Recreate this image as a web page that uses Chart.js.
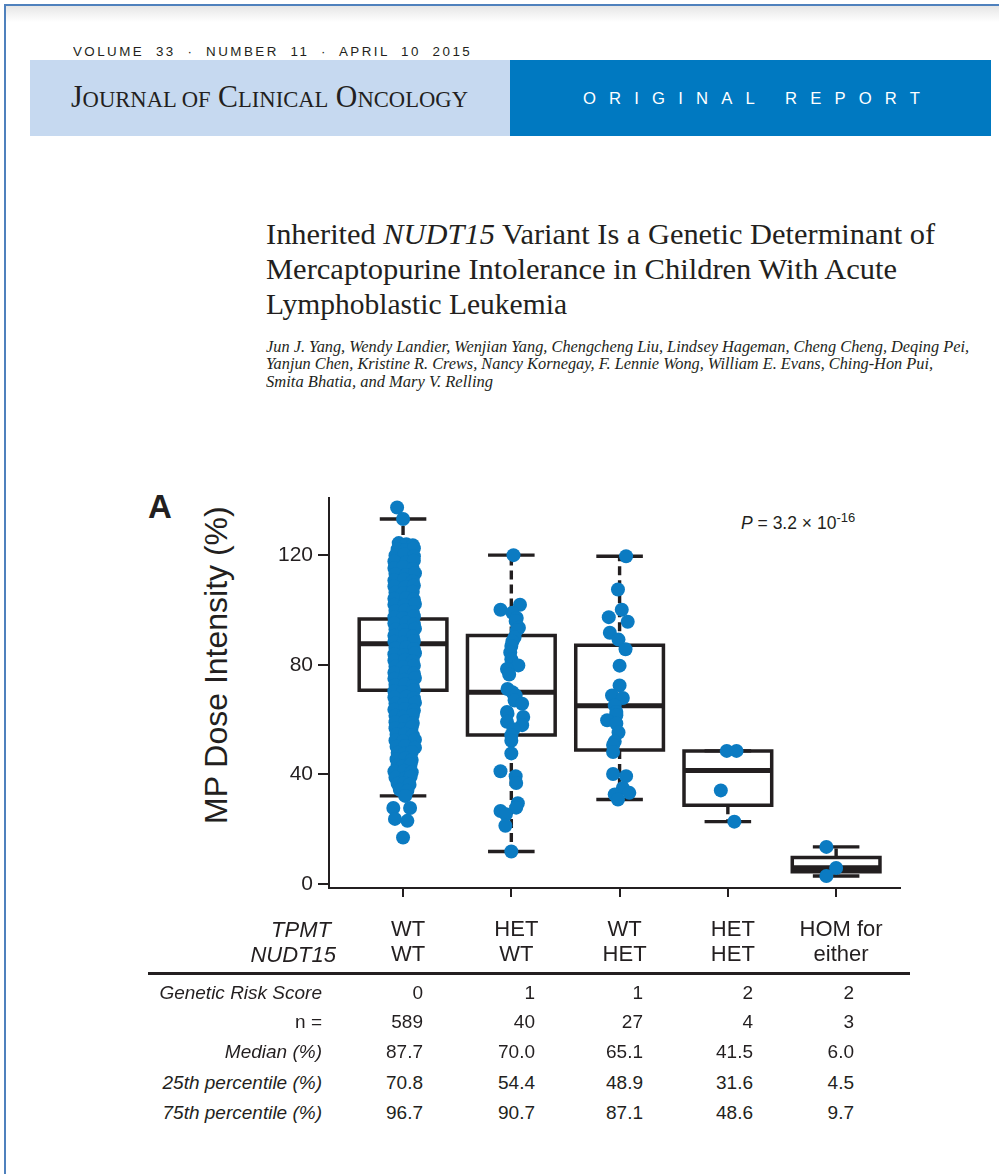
<!DOCTYPE html>
<html>
<head>
<meta charset="utf-8">
<title>NUDT15 – MP dose intensity</title>
<script src="https://cdn.jsdelivr.net/npm/chart.js@4.4.1/dist/chart.umd.min.js"></script>
<style>
  html, body { margin:0; padding:0; background:#fff; }
  body { width:999px; height:1174px; position:relative; overflow:hidden; color:#231f20;
         font-family:"Liberation Sans", Arial, Helvetica, sans-serif; }
  .t { position:absolute; white-space:nowrap; transform-origin:0 0; }
  .serif { font-family:"Liberation Serif", "Times New Roman", serif; }
  .sc { font-size:23.5px; }
</style>
</head>
<body>
<div style="position:absolute;left:4px;top:4px;width:1000px;height:1180px;border-left:2px solid #4f81bd;border-top:2px solid #4f81bd;"></div>
<div style="position:absolute;left:6px;top:6px;width:993px;height:16px;background:linear-gradient(#e6e6e6,#ffffff);"></div>

<div id="vol" class="t" style="left:73px;top:44.5px;font-size:12px;line-height:14px;letter-spacing:2.2px;word-spacing:5px;">VOLUME 33 · NUMBER 11 · APRIL 10 2015</div>
<div style="position:absolute;left:30px;top:60px;width:480px;height:76px;background:#c6d9f0;"></div>
<div style="position:absolute;left:510px;top:60px;width:481px;height:76px;background:#0079c1;"></div>
<div id="jco" class="t serif" style="left:71px;top:78.5px;font-size:31px;line-height:36px;">J<span class="sc">OURNAL OF</span> C<span class="sc">LINICAL</span> O<span class="sc">NCOLOGY</span></div>
<div id="orig" class="t" style="left:583px;top:88.4px;font-size:16.5px;line-height:20px;letter-spacing:13px;color:#fff;">ORIGINAL REPORT</div>

<div id="ti1" class="t serif" style="left:266px;top:215.5px;font-size:30px;line-height:35px;">Inherited <i>NUDT15</i> Variant Is a Genetic Determinant of</div>
<div id="ti2" class="t serif" style="left:266px;top:250.5px;font-size:30px;line-height:35px;">Mercaptopurine Intolerance in Children With Acute</div>
<div id="ti3" class="t serif" style="left:266px;top:285.5px;font-size:30px;line-height:35px;">Lymphoblastic Leukemia</div>

<div id="au1" class="t serif" style="left:266px;top:337.5px;font-size:16px;line-height:18px;font-style:italic;">Jun J. Yang, Wendy Landier, Wenjian Yang, Chengcheng Liu, Lindsey Hageman, Cheng Cheng, Deqing Pei,</div>
<div id="au2" class="t serif" style="left:266px;top:355px;font-size:16px;line-height:18px;font-style:italic;">Yanjun Chen, Kristine R. Crews, Nancy Kornegay, F. Lennie Wong, William E. Evans, Ching-Hon Pui,</div>
<div id="au3" class="t serif" style="left:266px;top:372.5px;font-size:16px;line-height:18px;font-style:italic;">Smita Bhatia, and Mary V. Relling</div>

<div class="t" style="left:148px;top:488.5px;font-size:33px;line-height:36px;font-weight:bold;">A</div>
<div class="t" style="left:199px;top:824px;font-size:32px;line-height:34px;transform:rotate(-90deg);">MP Dose Intensity (%)</div>
<div class="t" style="left:741px;top:514px;font-size:17.5px;line-height:18px;"><i>P</i> = 3.2 × 10<span style="font-size:13px;line-height:0;vertical-align:7px;">-16</span></div>

<div style="position:absolute;left:240px;top:480px;width:680px;height:500px;">
  <canvas id="chart" width="680" height="500" style="width:680px;height:500px;"></canvas>
</div>

<div style="position:absolute;left:148px;top:972px;width:762px;height:3px;background:#231f20;"></div>

<script>
// ---------- data ----------
const tpmtStatus   = ['WT', 'HET', 'WT', 'HET', 'HOM for'];
const nudt15Status = ['WT', 'WT', 'HET', 'HET', 'either'];
const yTickValues  = [0, 40, 80, 120];

// box-plot statistics as drawn
const boxQ1       = [70.7, 54.4, 48.9, 28.8, 4.5];
const boxMedian   = [87.7, 70.0, 65.1, 41.5, 6.0];
const boxQ3       = [96.7, 90.7, 87.1, 48.6, 9.7];
const whiskerLow  = [32.2, 11.9, 30.9, 22.8, 3.0];
const whiskerHigh = [133.2, 120.0, 119.6, 48.6, 13.6];

// individual patients (MP dose intensity, %) and their horizontal jitter (category units)
const wtwtValues = [
  137.4, 133.2,
  124.4,124.0,123.6, 122.2,121.9,122.5, 119.9,120.3,119.6, 117.7,117.4,118.0, 115.3,115.6,115.0,
  113.1,112.8,113.4, 110.8,111.1,110.5, 108.6,108.3,108.9, 106.4,106.1,106.7, 104.1,104.4,103.8,
  101.9,101.6,102.2, 99.6,99.9,99.3, 97.4,97.1,97.7, 95.1,95.4,94.8, 92.9,92.6,93.2,
  90.6,90.9,90.3, 88.4,88.1,88.7, 86.1,86.4,85.8, 83.9,83.6,84.2, 81.6,81.9,81.3,
  79.4,79.1,79.7, 77.1,77.4,76.8, 74.9,74.6,75.2, 72.6,72.9,72.3, 70.4,70.1,70.7,
  68.1,68.4,67.8, 65.9,65.6,66.2, 63.6,63.9,63.3, 61.4,61.1,61.7, 59.1,59.4,58.8,
  56.9,56.6,57.2, 54.6,54.9,54.3, 52.4,52.1,52.7, 50.1,50.4,49.8, 47.9,47.6,48.2,
  45.6,45.9,45.3, 43.4,43.1,43.7, 41.1,41.4,40.8, 38.9,38.6,39.2, 36.6,36.9,36.3,
  34.4, 34.1, 32.2,
  27.8, 27.8, 23.8, 23.1, 17.0
];
const wtwtJitter = [
  -0.055, 0.0,
  -0.04,0.03,0.09, -0.05,0.02,0.10, -0.07,0.01,0.10, -0.08,0.03,0.10, -0.08,0.00,0.09,
  -0.07,0.03,0.11, -0.08,0.01,0.09, -0.08,0.02,0.10, -0.07,0.00,0.09, -0.08,0.03,0.10,
  -0.08,0.01,0.11, -0.07,0.02,0.09, -0.08,0.00,0.10, -0.08,0.03,0.10, -0.07,0.01,0.11,
  -0.08,0.02,0.09, -0.08,0.00,0.10, -0.07,0.03,0.10, -0.08,0.01,0.11, -0.08,0.02,0.09,
  -0.07,0.00,0.10, -0.08,0.03,0.10, -0.08,0.01,0.11, -0.07,0.02,0.09, -0.08,0.00,0.10,
  -0.08,0.03,0.10, -0.07,0.01,0.11, -0.08,0.02,0.10, -0.07,0.00,0.09, -0.07,0.02,0.09,
  -0.07,0.01,0.08, -0.06,0.02,0.09, -0.07,0.00,0.11, -0.06,0.02,0.11, -0.05,0.01,0.08,
  -0.06,0.02,0.08, -0.05,0.00,0.07, -0.08,0.01,0.08, -0.07,0.02,0.07, -0.05,0.01,0.06,
  -0.03, 0.04, 0.02,
  -0.09, 0.065, -0.075, 0.04, 0.0
];
const hetwtValues = [120.0,101.9,100.1,99.0,97.1, 96.0,93.5,92.7,90.0,88.5, 86.9,84.5,82.0,80.5,79.8,
  78.5,76.5,71.2,70.0,68.8, 67.0,65.8,62.8,62.2,61.0, 59.2,58.0,56.5,54.3,52.3,
  47.7,41.2,39.4,36.9,29.5, 27.9,26.7,25.5,21.3,11.9];
const hetwtJitter = [0.02,0.08,-0.10,0.01,0.05, 0.04,0.07,0.05,0.03,0.01, 0.0,-0.01,0.0,0.01,0.065,
  -0.04,-0.02,-0.035,0.01,0.04, 0.03,0.10,-0.04,-0.035,0.11, -0.04,0.10,0.02,0.0,0.0,
  0.0,-0.10,0.04,0.045,0.06, 0.045,-0.10,-0.05,-0.055,0.0];
const wthetValues = [119.6,107.5,100.1,97.4,95.7,91.7,89.2,85.7,79.7,72.5,68.8,67.9,65.2,62.8,
  61.6,59.8,58.6,55.3,52.0,50.8,48.2,40.2,39.4,35.1,33.3,32.7,30.9];
const wthetJitter = [0.06,-0.015,0.02,-0.10,0.075,-0.09,-0.01,0.055,0.0,0.0,-0.07,0.03,-0.045,-0.03,
  -0.03,-0.115,-0.03,-0.01,-0.045,-0.06,-0.06,-0.06,0.06,0.03,0.09,-0.045,-0.015];
const hethetValues = [48.6, 48.6, 34.2, 22.8];
const hethetJitter = [-0.01, 0.08, -0.065, 0.06];
const homValues = [13.6, 5.9, 3.0];
const homJitter = [-0.09, 0.0, -0.09];

// summary table
const tableRowLabels   = ['Genetic Risk Score', 'n =', 'Median (%)', '25th percentile (%)', '75th percentile (%)'];
const tableRowItalic   = [true, false, true, true, true];
const geneticRiskScore = ['0', '1', '1', '2', '2'];
const nPatients        = ['589', '40', '27', '4', '3'];
const medianPct        = ['87.7', '70.0', '65.1', '41.5', '6.0'];
const p25Pct           = ['70.8', '54.4', '48.9', '31.6', '4.5'];
const p75Pct           = ['96.7', '90.7', '87.1', '48.6', '9.7'];

// ---------- styling / layout ----------
const INK = '#231f20', DOT = '#0b7bc2';
const BOX_HALF = 0.405, CAP_HALF = 0.215;

const groups = [
  [wtwtValues, wtwtJitter], [hetwtValues, hetwtJitter], [wthetValues, wthetJitter],
  [hethetValues, hethetJitter], [homValues, homJitter]
];
const dots = [];
groups.forEach(([vals, jit], g) => vals.forEach((v, k) => dots.push({ x: g + 1 + jit[k], y: v })));

const boxPts = [], medPts = [], whiskPts = [], capPts = [];
tpmtStatus.forEach((_, i) => {
  const c = i + 1;
  boxPts.push({x:c-BOX_HALF,y:boxQ1[i]},{x:c+BOX_HALF,y:boxQ1[i]},{x:c+BOX_HALF,y:boxQ3[i]},
              {x:c-BOX_HALF,y:boxQ3[i]},{x:c-BOX_HALF,y:boxQ1[i]},{x:c,y:null});
  medPts.push({x:c-BOX_HALF,y:boxMedian[i]},{x:c+BOX_HALF,y:boxMedian[i]},{x:c,y:null});
  whiskPts.push({x:c,y:boxQ3[i]},{x:c,y:whiskerHigh[i]},{x:c,y:null},
                {x:c,y:boxQ1[i]},{x:c,y:whiskerLow[i]},{x:c,y:null});
  capPts.push({x:c-CAP_HALF,y:whiskerHigh[i]},{x:c+CAP_HALF,y:whiskerHigh[i]},{x:c,y:null},
              {x:c-CAP_HALF,y:whiskerLow[i]},{x:c+CAP_HALF,y:whiskerLow[i]},{x:c,y:null});
});

const lineDs = (data, width, extra) => Object.assign({
  type: 'line', data, showLine: true, borderColor: INK, borderWidth: width,
  pointRadius: 0, pointHoverRadius: 0, fill: false, tension: 0, spanGaps: false,
  clip: false, order: 1
}, extra || {});

Chart.defaults.font.family = '"Liberation Sans", Arial, Helvetica, sans-serif';
Chart.defaults.color = INK;

new Chart(document.getElementById('chart'), {
  type: 'scatter',
  data: {
    datasets: [
      { type: 'scatter', data: dots, pointRadius: 7, pointHoverRadius: 7, pointBackgroundColor: DOT,
        pointBorderWidth: 0, borderWidth: 0, clip: false, order: 0 },
      lineDs(capPts, 3.4, { borderCapStyle: 'butt' }),
      lineDs(whiskPts, 3.4, { borderDash: [9, 5], borderCapStyle: 'butt' }),
      lineDs(medPts, 5, { borderCapStyle: 'butt' }),
      lineDs(boxPts, 3.5, { borderCapStyle: 'square', borderJoinStyle: 'miter' })
    ]
  },
  options: {
    responsive: false, animation: false, events: [],
    layout: { padding: { left: 0, right: 20, top: 13, bottom: 12 } },
    plugins: { legend: { display: false }, tooltip: { enabled: false } },
    scales: {
      x: {
        type: 'linear', min: 0.316, max: 5.59,
        afterBuildTicks: s => { s.ticks = tpmtStatus.map((_, i) => ({ value: i + 1 })); },
        afterFit: s => { s.height = 80; },
        grid: { drawOnChartArea: false, drawTicks: true, tickLength: 9, color: INK, lineWidth: 2 },
        border: { display: true, color: INK, width: 2 },
        ticks: { autoSkip: false, maxRotation: 0, minRotation: 0, padding: 20, labelOffset: 5,
                 font: { size: 22, lineHeight: 1.15 }, color: INK,
                 callback: (v, i) => [tpmtStatus[i], nudt15Status[i]] }
      },
      y: {
        type: 'linear', min: -1.4, max: 141,
        afterBuildTicks: s => { s.ticks = yTickValues.map(v => ({ value: v })); },
        afterFit: s => { s.width = 89; },
        grid: { drawOnChartArea: false, drawTicks: true, tickLength: 11, color: INK, lineWidth: 2 },
        border: { display: true, color: INK, width: 2 },
        ticks: { padding: 5, font: { size: 21 }, color: INK }
      }
    }
  }
});

// ---------- header row labels and table ----------
function addText(txt, o) {
  const d = document.createElement('div');
  d.className = 't';
  d.textContent = txt;
  d.style.fontSize = o.size + 'px';
  d.style.lineHeight = o.lh + 'px';
  d.style.top = (o.cy - o.lh / 2) + 'px';
  if (o.italic) d.style.fontStyle = 'italic';
  d.style.right = (999 - o.right) + 'px';
  document.body.appendChild(d);
}
addText('TPMT',   { right: 331, cy: 930, size: 22, lh: 26, italic: true });
addText('NUDT15', { right: 336, cy: 955, size: 22, lh: 26, italic: true });

const rowCenters = [993, 1022, 1052, 1083, 1113];
const colRights  = [423, 535, 643, 753, 854];
const tableRows  = [geneticRiskScore, nPatients, medianPct, p25Pct, p75Pct];
tableRows.forEach((row, r) => {
  addText(tableRowLabels[r], { right: 322, cy: rowCenters[r], size: 19, lh: 24, italic: tableRowItalic[r] });
  row.forEach((val, c) => addText(val, { right: colRights[c], cy: rowCenters[r], size: 19, lh: 24 }));
});

// ---------- fit header text widths ----------
const fits = [['vol', 397 + 2.2], ['jco', 397], ['orig', 337 + 13], ['ti1', 669], ['ti2', 631], ['ti3', 301],
              ['au1', 703], ['au2', 667], ['au3', 227]];
function fitAll() {
  fits.forEach(([id, target]) => {
    const el = document.getElementById(id);
    el.style.transform = 'none';
    const w = el.getBoundingClientRect().width;
    if (w > 0) el.style.transform = 'scaleX(' + (target / w).toFixed(4) + ')';
  });
}
fitAll();
if (document.fonts && document.fonts.ready) document.fonts.ready.then(fitAll);
</script>
</body>
</html>
